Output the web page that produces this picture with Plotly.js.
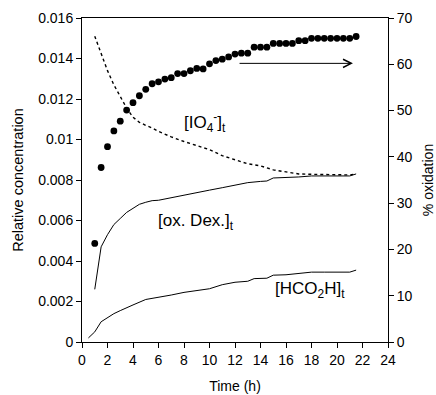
<!DOCTYPE html>
<html>
<head>
<meta charset="utf-8">
<script src="https://cdn.plot.ly/plotly-3.0.1.min.js"></script>
<style>
  html, body { margin: 0; padding: 0; background: #fff; }
  #chart { width: 436px; height: 395px; }
</style>
</head>
<body>
<div id="chart"></div>
<script>
// % oxidation (right axis), sampled every 0.5 h
const oxTime = [1,1.5,2,2.5,3,3.5,4,4.5,5,5.5,6,6.5,7,7.5,8,8.5,9,9.5,10,10.5,11,11.5,12,12.5,13,13.5,14,14.5,15,15.5,16,16.5,17,17.5,18,18.5,19,19.5,20,20.5,21,21.5];
const oxPercent = [21.3,37.7,42.2,45.6,47.7,50.1,51.7,53.2,54.6,55.8,56.2,56.8,57.1,58.0,58.0,58.6,59.1,59.0,60.1,60.8,61.1,61.6,62.2,62.4,62.4,63.7,63.7,63.7,64.5,64.5,64.5,64.5,65.1,65.1,65.6,65.6,65.6,65.6,65.6,65.6,65.6,66.0];

// [IO4-]t (left axis)
const io4Time = [1,1.5,2,2.5,3,3.5,4,4.5,5,5.5,6,7,8,9,10,11,12,13,14,15,16,17,18,19,20,21,21.5];
const io4Conc = [0.0151,0.0142,0.0134,0.0127,0.0121,0.01155,0.0111,0.01085,0.0107,0.01057,0.0104,0.01013,0.0099,0.0097,0.0095,0.0092,0.0090,0.0088,0.0087,0.0085,0.0084,0.0083,0.00828,0.00826,0.00825,0.00825,0.0083];

// [ox. Dex.]t (left axis)
const dexTime = [1,1.5,2,2.5,3,3.5,4,4.5,5,5.5,6,7,8,9,10,11,12,13,14,14.5,15,16,17,18,19,20,21,21.5];
const dexConc = [0.0026,0.0047,0.0053,0.0058,0.0061,0.0064,0.0066,0.0068,0.0069,0.00698,0.0070,0.00713,0.00727,0.00737,0.0075,0.00762,0.00776,0.00787,0.00793,0.00795,0.0081,0.00812,0.00815,0.0082,0.0082,0.0082,0.0082,0.0083];

// [HCO2H]t (left axis)
const fmTime = [0.5,1,1.5,2,2.5,3,3.5,4,5,6,7,8,9,10,11,12,13,13.5,14.5,15,16,17,18,19,20,21,21.5];
const fmConc = [0.0002,0.0005,0.0010,0.0012,0.0014,0.00155,0.0017,0.00183,0.0021,0.0022,0.00232,0.00245,0.00255,0.00263,0.00283,0.00295,0.0030,0.00313,0.00315,0.0033,0.00332,0.0034,0.00345,0.00345,0.00345,0.00345,0.00355];

const leftTicks = [0,0.002,0.004,0.006,0.008,0.01,0.012,0.014,0.016];
const leftTickText = ["0","0.002","0.004","0.006","0.008","0.01","0.012","0.014","0.016"];

const FONT = "Liberation Sans, Arial, Helvetica, sans-serif";

const traces = [
  { x: io4Time, y: io4Conc, type: 'scatter', mode: 'lines', yaxis: 'y',
    line: { color: '#000', width: 1.4, dash: '3px,3px' }, hoverinfo: 'none' },
  { x: dexTime, y: dexConc, type: 'scatter', mode: 'lines', yaxis: 'y',
    line: { color: '#000', width: 1 }, hoverinfo: 'none' },
  { x: fmTime, y: fmConc, type: 'scatter', mode: 'lines', yaxis: 'y',
    line: { color: '#000', width: 1 }, hoverinfo: 'none' },
  { x: oxTime, y: oxPercent, type: 'scatter', mode: 'markers', yaxis: 'y2',
    marker: { color: '#000', size: 6.8 }, hoverinfo: 'none' }
];

const layout = {
  width: 436, height: 395,
  margin: { l: 82, r: 48, t: 18, b: 53, pad: 0 },
  paper_bgcolor: '#fff', plot_bgcolor: '#fff',
  showlegend: false,
  font: { family: FONT, size: 14, color: '#000' },
  xaxis: {
    range: [0, 24], dtick: 2, tick0: 0,
    showline: true, mirror: true, linecolor: '#000', linewidth: 1,
    ticks: 'outside', ticklen: 5, tickwidth: 1, tickcolor: '#000',
    showgrid: false, zeroline: false,
    tickfont: { size: 14 },
    title: { text: 'Time (h)', font: { size: 14 }, standoff: 14 }
  },
  yaxis: {
    range: [0, 0.016], tickvals: leftTicks, ticktext: leftTickText,
    showline: true, linecolor: '#000', linewidth: 1,
    ticks: 'outside', ticklen: 5, tickwidth: 1, tickcolor: '#000',
    showgrid: false, zeroline: false,
    tickfont: { size: 14 },
    title: { text: 'Relative concentration', font: { size: 14.5 }, standoff: 11 }
  },
  yaxis2: {
    range: [0, 70], dtick: 10, tick0: 0, overlaying: 'y', side: 'right',
    showline: true, linecolor: '#000', linewidth: 1,
    ticks: 'outside', ticklen: 5, tickwidth: 1, tickcolor: '#000',
    showgrid: false, zeroline: false,
    tickfont: { size: 14 },
    title: { text: '% oxidation', font: { size: 14 }, standoff: 12 }
  },
  annotations: [
    { x: 9.65, y: 0.01082, xref: 'x', yref: 'y', showarrow: false,
      text: '[IO<sub>4</sub><sup>-</sup>]<sub>t</sub>', font: { size: 17 } },
    { x: 8.94, y: 0.00594, xref: 'x', yref: 'y', showarrow: false,
      text: '[ox. Dex.]<sub>t</sub>', font: { size: 17 } },
    { x: 17.9, y: 0.00256, xref: 'x', yref: 'y', showarrow: false,
      text: '[HCO<sub>2</sub>H]<sub>t</sub>', font: { size: 17 } },
    { x: 21.25, y: 60.2, xref: 'x', yref: 'y2',
      ax: 12.24, ay: 60.2, axref: 'x', ayref: 'y2',
      showarrow: true, arrowhead: 5, arrowsize: 1.6, arrowwidth: 1,
      arrowcolor: '#000', text: '' }
  ]
};

Plotly.newPlot('chart', traces, layout, { staticPlot: true, displayModeBar: false });
</script>
</body>
</html>
